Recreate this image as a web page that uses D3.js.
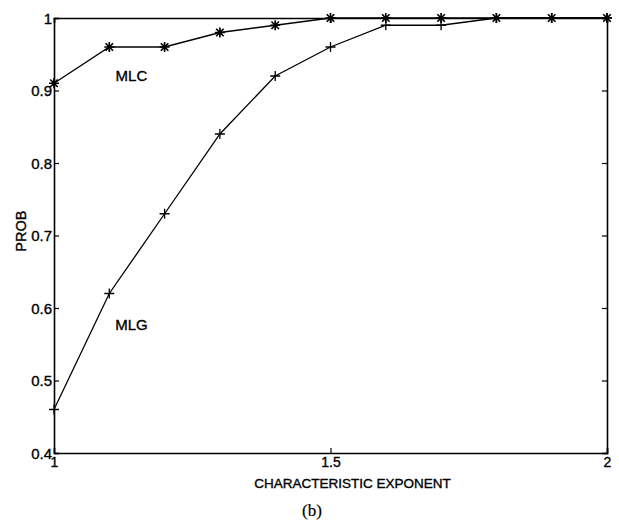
<!DOCTYPE html>
<html>
<head>
<meta charset="utf-8">
<script src="https://cdn.jsdelivr.net/npm/d3@7"></script>
<style>
  body { margin: 0; background: #fff; }
  text { font-family: "Liberation Sans", Arial, Helvetica, sans-serif; fill: #000; stroke: #000; stroke-width: 0.35px; }
  .axis path, .axis line { stroke: #000; }
</style>
</head>
<body>
<script>
// data
var exponents = [1, 1.1, 1.2, 1.3, 1.4, 1.5, 1.6, 1.7, 1.8, 1.9, 2];
var mlc = [0.91, 0.96, 0.96, 0.98, 0.99, 1, 1, 1, 1, 1, 1];
var mlg = [0.46, 0.62, 0.73, 0.84, 0.92, 0.96, 0.99, 0.99, 1, 1, 1];
var xTicks = [1, 1.5, 2];
var yTicks = [0.4, 0.5, 0.6, 0.7, 0.8, 0.9, 1];

var W = 619, H = 522;
var margin = {top: 18, right: 12, bottom: 69, left: 54},
    width = W - margin.left - margin.right,
    height = H - margin.top - margin.bottom;

var svg = d3.select('body').append('svg')
  .attr('width', W)
  .attr('height', H);

var g = svg.append('g')
  .attr('transform', 'translate(' + margin.left + ',' + margin.top + ')');

var x = d3.scaleLinear().domain([1, 2]).range([0, width]);
var y = d3.scaleLinear().domain([0.4, 1]).range([height, 0]);

var fmt = function(d) { return String(+d.toFixed(1)); };

// axes, ticks pointing inward
var left = g.append('g').attr('class', 'axis')
  .call(d3.axisLeft(y).tickValues(yTicks).tickFormat(fmt).tickSize(-5).tickPadding(2));
var right = g.append('g').attr('class', 'axis')
  .attr('transform', 'translate(' + width + ',0)')
  .call(d3.axisRight(y).tickValues(yTicks).tickFormat('').tickSize(-5));
var bottom = g.append('g').attr('class', 'axis')
  .attr('transform', 'translate(0,' + height + ')')
  .call(d3.axisBottom(x).tickValues(xTicks).tickFormat(fmt).tickSize(-5).tickPadding(4));
var top = g.append('g').attr('class', 'axis')
  .call(d3.axisTop(x).tickValues(xTicks).tickFormat('').tickSize(-5));

g.selectAll('.axis .domain').attr('stroke-width', 1.6);
g.selectAll('.axis line').attr('stroke-width', 1.2);
left.selectAll('text').style('font-size', '15px').attr('dy', '0.35em');
bottom.selectAll('text').style('font-size', '14px');

// lines
var line = d3.line()
  .x(function(d) { return x(d[0]); })
  .y(function(d) { return y(d[1]); });

var mlcPts = exponents.map(function(e, i) { return [e, mlc[i]]; });
var mlgPts = exponents.map(function(e, i) { return [e, mlg[i]]; });

g.append('path').datum(mlcPts)
  .attr('d', line).attr('fill', 'none').attr('stroke', '#000').attr('stroke-width', 1.3);
g.append('path').datum(mlgPts)
  .attr('d', line).attr('fill', 'none').attr('stroke', '#000').attr('stroke-width', 1.3);

// markers: '*' for MLC, '+' for MLG
var s = 5;
var star = 'M' + (-s) + ',0H' + s + 'M0,' + (-s) + 'V' + s +
  'M' + (-s*0.75) + ',' + (-s*0.75) + 'L' + (s*0.75) + ',' + (s*0.75) +
  'M' + (-s*0.75) + ',' + (s*0.75) + 'L' + (s*0.75) + ',' + (-s*0.75);
var plus = 'M' + (-s) + ',0H' + s + 'M0,' + (-s) + 'V' + s;

g.selectAll('.mlc').data(mlcPts).enter().append('path')
  .attr('class', 'mlc')
  .attr('transform', function(d) { return 'translate(' + x(d[0]) + ',' + y(d[1]) + ')'; })
  .attr('d', star).attr('stroke', '#000').attr('stroke-width', 1.7).attr('fill', 'none');
g.selectAll('.mlg').data(mlgPts).enter().append('path')
  .attr('class', 'mlg')
  .attr('transform', function(d) { return 'translate(' + x(d[0]) + ',' + y(d[1]) + ')'; })
  .attr('d', plus).attr('stroke', '#000').attr('stroke-width', 1.3).attr('fill', 'none');

// series labels
g.append('text').attr('x', x(1.14)).attr('y', y(0.92)).attr('dy', '0.35em')
  .attr('text-anchor', 'middle').style('font-size', '15px').text('MLC');
g.append('text').attr('x', x(1.14)).attr('y', y(0.577)).attr('dy', '0.35em')
  .attr('text-anchor', 'middle').style('font-size', '15px').text('MLG');

// axis titles
svg.append('text')
  .attr('transform', 'translate(21,' + (margin.top + y(0.706)) + ') rotate(-90)')
  .attr('text-anchor', 'middle').attr('dy', '0.35em')
  .style('font-size', '14.5px').text('PROB');

svg.append('text')
  .attr('x', margin.left + x(1.54)).attr('y', 488)
  .attr('text-anchor', 'middle').style('font-size', '13.5px')
  .text('CHARACTERISTIC EXPONENT');

svg.append('text')
  .attr('x', 312).attr('y', 516)
  .attr('text-anchor', 'middle')
  .style('font-family', '"Liberation Serif", "Times New Roman", serif')
  .style('stroke-width', '0.2px')
  .style('font-size', '17px').text('(b)');
</script>
</body>
</html>
